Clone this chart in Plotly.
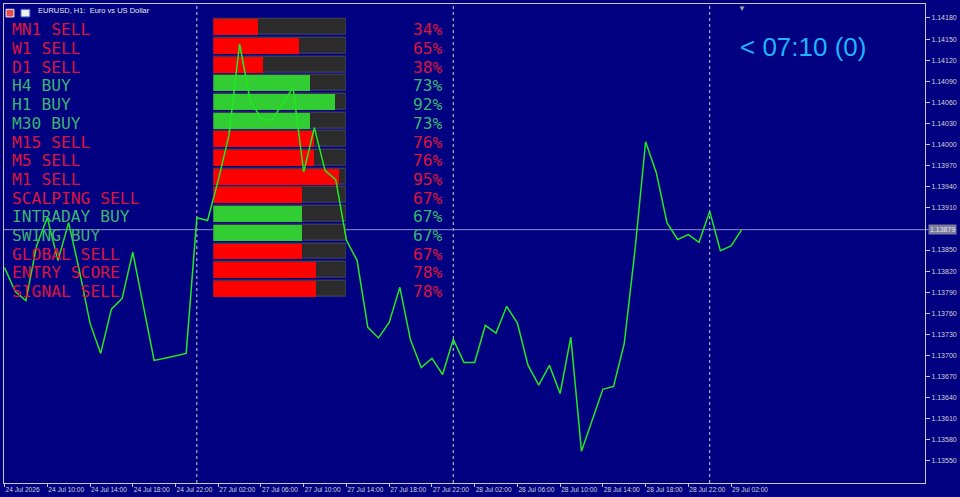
import plotly.graph_objects as go

# ---------------- data ----------------
price = [1.13825, 1.13791, 1.13778, 1.13856, 1.13896, 1.13835, 1.13889, 1.13821, 1.13746, 1.13703,
         1.13766, 1.13781, 1.13847, 1.13771, 1.13693, 1.13696, 1.13699, 1.13703, 1.13896, 1.13892,
         1.13949, 1.14013, 1.14143, 1.14062, 1.14038, 1.14034, 1.14058, 1.14081, 1.13961, 1.14024,
         1.13963, 1.13950, 1.13864, 1.13835, 1.13740, 1.13725, 1.13747, 1.13797, 1.13722, 1.13683,
         1.13696, 1.13673, 1.13723, 1.13690, 1.13690, 1.13743, 1.13732, 1.13770, 1.13746, 1.13686,
         1.13658, 1.13686, 1.13646, 1.13726, 1.13564, 1.13608, 1.13652, 1.13656, 1.13717, 1.13849,
         1.14004, 1.13960, 1.13889, 1.13865, 1.13872, 1.13861, 1.13905, 1.13849, 1.13856, 1.13879]
bar_index = list(range(len(price)))
current_price = 1.13879

x_tick_index = [0, 4, 8, 12, 16, 20, 24, 28, 32, 36, 40, 44, 48, 52, 56, 60, 64, 68]
x_tick_labels = ["24 Jul 2026", "24 Jul 10:00", "24 Jul 14:00", "24 Jul 18:00", "24 Jul 22:00",
                 "27 Jul 02:00", "27 Jul 06:00", "27 Jul 10:00", "27 Jul 14:00", "27 Jul 18:00",
                 "27 Jul 22:00", "28 Jul 02:00", "28 Jul 06:00", "28 Jul 10:00", "28 Jul 14:00",
                 "28 Jul 18:00", "28 Jul 22:00", "29 Jul 02:00"]
day_separators = [18, 42, 66]

y_ticks = [1.14180, 1.14150, 1.14120, 1.14090, 1.14060, 1.14030, 1.14000, 1.13970, 1.13940,
           1.13910, 1.13850, 1.13820, 1.13790, 1.13760, 1.13730, 1.13700, 1.13670, 1.13640,
           1.13610, 1.13580, 1.13550]
y_tick_labels = ["%.5f" % v for v in y_ticks]

panel_labels = ["MN1", "W1", "D1", "H4", "H1", "M30", "M15", "M5", "M1",
                "SCALPING", "INTRADAY", "SWING", "GLOBAL", "ENTRY", "SIGNAL"]
panel_signals = ["SELL", "SELL", "SELL", "BUY", "BUY", "BUY", "SELL", "SELL", "SELL",
                 "SELL", "BUY", "BUY", "SELL", "SCORE", "SELL"]
panel_pct = [34, 65, 38, 73, 92, 73, 76, 76, 95, 67, 67, 67, 67, 78, 78]

title_text = "EURUSD, H1:  Euro vs US Dollar"
countdown_text = "< 07:10 (0)"

# ---------------- styles ----------------
BG = "#000080"
LINE = "#22e822"
RED_TXT = "#dc143c"
GREEN_TXT = "#3cb371"
RED_BAR = "#ff0000"
GREEN_BAR = "#32cd32"
AXIS_TXT = "#d4d4d4"
SANS = "Liberation Sans, Arial"
MONO = "DejaVu Sans Mono"

rows = list(range(len(panel_labels)))
is_buy = [s == "BUY" for s in panel_signals]
bar_colors = [GREEN_BAR if b else RED_BAR for b in is_buy]
txt_colors = [GREEN_TXT if b else RED_TXT for b in is_buy]

fig = go.Figure()

# ---- panel (subplot xy, drawn first / underneath) ----
fig.add_trace(go.Bar(x=[100] * len(rows), y=rows, orientation="h",
                     xaxis="x", yaxis="y", width=0.85,
                     marker=dict(color="#2b2b2b", line=dict(color="#4c4c60", width=1)),
                     hoverinfo="skip", showlegend=False))
fig.add_trace(go.Bar(x=panel_pct, y=rows, orientation="h",
                     xaxis="x", yaxis="y", width=0.85,
                     marker=dict(color=bar_colors, line=dict(width=0)),
                     hoverinfo="skip", showlegend=False))
dot_rows = [r for r, p in zip(rows, panel_pct) if p >= 90]
fig.add_trace(go.Scatter(x=[104.5] * len(dot_rows), y=dot_rows, mode="markers",
                         xaxis="x", yaxis="y", cliponaxis=False,
                         marker=dict(color="#ffff00", size=6),
                         hoverinfo="skip", showlegend=False))

# ---- price line (subplot x2y2, drawn on top) ----
fig.add_trace(go.Scatter(x=bar_index, y=price, mode="lines", xaxis="x2", yaxis="y2",
                         line=dict(color=LINE, width=1.5), hoverinfo="skip",
                         showlegend=False))

annotations = []
for r, lab, sig, pct, col in zip(rows, panel_labels, panel_signals, panel_pct, txt_colors):
    annotations.append(dict(xref="paper", yref="y", x=0.0062, y=r, yshift=-3,
                            text=f"{lab} {sig}", showarrow=False, xanchor="left",
                            yanchor="middle", font=dict(family=MONO, size=16.3, color=col)))
    annotations.append(dict(xref="paper", yref="y", x=0.4785, y=r, yshift=-3,
                            text=f"{pct}%", showarrow=False, xanchor="right",
                            yanchor="middle", font=dict(family=MONO, size=16.3, color=col)))

# countdown
annotations.append(dict(xref="paper", yref="paper", x=0.797, y=0.911, text=countdown_text,
                        showarrow=False, xanchor="left", yanchor="middle",
                        font=dict(family=SANS, size=26, color="#1eb4ff")))
# title
annotations.append(dict(xref="paper", yref="paper", x=0.0347, y=0.9855, text=title_text,
                        showarrow=False, xanchor="left", yanchor="middle",
                        font=dict(family=SANS, size=7.5, color="#e8e8e8")))
# current price label
annotations.append(dict(xref="paper", yref="y2", x=1.0, xshift=3, y=current_price,
                        text="%.5f" % current_price, showarrow=False, xanchor="left",
                        yanchor="middle", bgcolor="#7c7c9c", borderpad=1,
                        font=dict(family=SANS, size=7, color="#e8e8f0")))
# shift marker at the last bar
annotations.append(dict(xref="x2", yref="paper", x=bar_index[-1], y=1.0, yshift=-3,
                        text="▼", showarrow=False, xanchor="center", yanchor="middle",
                        font=dict(size=8, color="#a0a0a8")))

shapes = []
for d in day_separators:
    shapes.append(dict(type="line", xref="x2", yref="paper", x0=d, x1=d, y0=0, y1=1,
                       line=dict(color="#d0d0d0", width=1, dash="dot"), layer="below"))
shapes.append(dict(type="line", xref="paper", yref="y2", x0=0, x1=1.004,
                   y0=current_price, y1=current_price,
                   line=dict(color="#8c8cd0", width=1), layer="below"))
# title icons
shapes.append(dict(type="rect", xref="paper", yref="paper", x0=0.0022, x1=0.0108,
                   y0=0.973, y1=0.989, fillcolor="#e05050", line=dict(color="#f0f0f0", width=1)))
shapes.append(dict(type="rect", xref="paper", yref="paper", x0=0.0184, x1=0.0281,
                   y0=0.973, y1=0.989, fillcolor="#f0f0f0", line=dict(color="#4060c0", width=1)))

fig.update_layout(
    width=960, height=497, autosize=False,
    margin=dict(l=3, r=33, t=3, b=14, pad=0),
    paper_bgcolor=BG, plot_bgcolor="rgba(0,0,0,0)",
    showlegend=False, barmode="overlay", bargap=0,
    hovermode=False,
    annotations=annotations, shapes=shapes,
    xaxis=dict(domain=[0.2273, 0.3712], range=[0, 100], anchor="y", visible=False,
               fixedrange=True),
    yaxis=dict(domain=[0.38675, 0.97158], range=[14.5, -0.5], anchor="x", visible=False,
               fixedrange=True),
    xaxis2=dict(domain=[0, 1], range=[-0.05, 86.15], anchor="y2",
                tickvals=x_tick_index, ticktext=x_tick_labels, tickangle=0,
                ticks="outside", ticklen=3, tickcolor="#c8c8c8",
                ticklabelposition="outside right",
                tickfont=dict(family=SANS, size=6.6, color=AXIS_TXT),
                showgrid=False, zeroline=False, showline=True, mirror=True,
                linecolor="#c8c8c8", linewidth=1, fixedrange=True),
    yaxis2=dict(domain=[0, 1], range=[1.135187, 1.141999], anchor="x2", side="right",
                tickvals=y_ticks, ticktext=y_tick_labels, ticks="outside", ticklen=4,
                tickcolor="#c8c8c8",
                tickfont=dict(family=SANS, size=7, color=AXIS_TXT),
                showgrid=False, zeroline=False, showline=True, mirror=True,
                linecolor="#c8c8c8", linewidth=1, fixedrange=True),
)

fig.write_html("out.html", config={"displayModeBar": False})
